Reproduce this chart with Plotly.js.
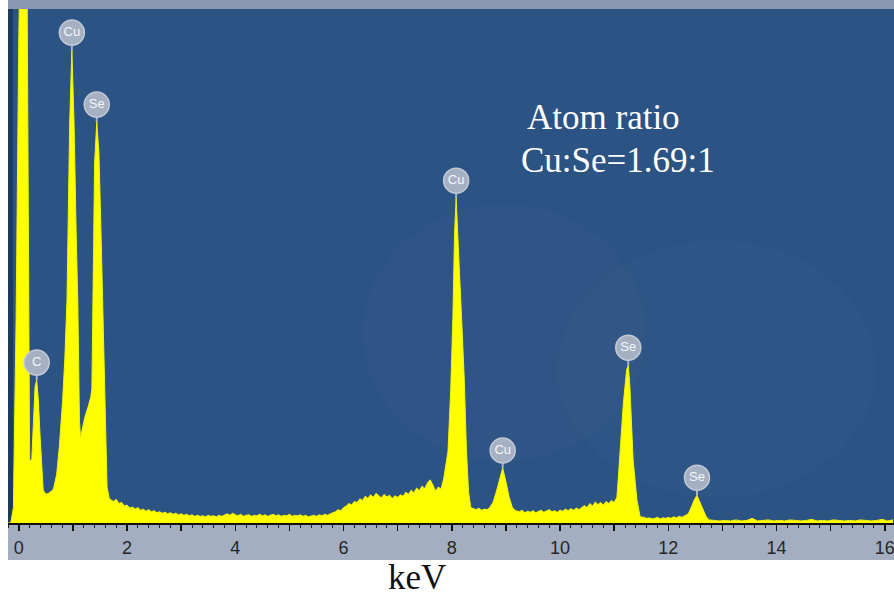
<!DOCTYPE html>
<html>
<head>
<meta charset="utf-8">
<script src="https://cdn.plot.ly/plotly-3.0.1.min.js"></script>
<style>html,body{margin:0;padding:0;background:#fff;}#chart{width:894px;height:596px;}</style>
</head>
<body>
<div id="chart"></div>
<script>
// EDS spectrum, energy in keV, counts in arbitrary units (1000 = top of frame)
const energy = [
 -0.20,-0.15,-0.10,-0.05,0.00,0.05,0.10,0.15,0.20,
 0.24,0.27,0.30,0.33,0.36,0.39,0.42,0.45,0.50,0.55,0.60,0.64,
 0.70,0.75,0.81,0.85,0.89,0.94,0.98,1.02,1.06,1.09,1.12,1.14,
 1.18,1.23,1.28,1.33,1.35,1.37,1.40,1.44,1.48,1.52,1.55,1.59,1.63,1.67,
 1.70,1.75,1.80,1.85,1.90,1.95,2.00,2.05,2.10,2.15,2.20,2.25,2.30,2.35,2.40,2.45,
 2.50,2.55,2.60,2.65,2.70,2.75,2.80,2.85,2.90,2.95,3.00,3.05,3.10,3.15,3.20,3.25,
 3.30,3.35,3.40,3.45,3.50,3.55,3.60,3.65,3.70,3.75,3.80,3.85,3.90,3.95,4.00,4.05,
 4.10,4.15,4.20,4.25,4.30,4.35,4.40,4.45,4.50,4.55,4.60,4.65,4.70,4.75,4.80,4.85,
 4.90,4.95,5.00,5.05,5.10,5.15,5.20,5.25,5.30,5.35,5.40,5.45,5.50,5.55,5.60,5.65,
 5.70,5.75,5.80,5.85,5.90,5.95,6.00,6.05,6.10,6.15,6.20,6.25,6.30,6.35,6.40,6.45,
 6.50,6.55,6.60,6.65,6.70,6.75,6.80,6.85,6.90,6.95,7.00,7.05,7.10,7.15,7.20,7.25,
 7.30,7.35,7.40,7.45,7.50,7.55,7.60,7.65,7.70,7.75,7.80,7.85,
 7.93,7.98,8.02,8.05,8.08,8.11,8.14,8.18,8.23,8.27,8.31,8.35,
 8.40,8.45,8.50,8.55,8.60,8.65,8.70,
 8.76,8.82,8.88,8.94,9.00,9.06,9.12,9.18,
 9.25,9.30,9.35,9.40,9.45,9.50,9.55,9.60,9.65,9.70,9.75,9.80,9.85,9.90,9.95,10.00,
 10.05,10.10,10.15,10.20,10.25,10.30,10.35,10.40,10.45,10.50,10.55,10.60,10.65,10.70,10.75,10.80,
 10.85,10.90,10.95,11.00,11.05,
 11.07,11.12,11.17,11.23,11.26,11.29,11.32,11.35,11.42,11.48,
 11.55,11.60,11.65,11.70,11.75,11.80,11.85,11.90,11.95,12.00,12.05,12.10,12.15,12.20,12.25,12.30,
 12.37,12.43,12.48,12.53,12.58,12.64,12.70,12.76,
 12.85,12.95,13.05,13.15,13.25,13.35,13.45,13.55,13.65,13.75,13.85,13.95,14.05,14.15,14.25,14.35,
 14.45,14.55,14.65,14.75,14.85,14.95,15.05,15.15,15.25,15.35,15.45,15.55,15.65,15.75,15.85,15.95,
 16.05,16.15
];
const counts = [
 0,0,30,400,950,1500,1600,1100,120,
 125,200,265,278,240,175,110,64,56,58,62,66,
 95,150,240,320,434,780,920,780,560,430,200,165,
 187,210,226,245,262,430,700,780,720,560,434,250,70,48,
 45,42,46,38,40,33,35,29,31,27,30,25,27,23,26,22,
 24,20,22,19,21,18,20,17,19,16,18,15,17,14,16,13,
 15,13,14,12,15,13,14,12,15,13,16,18,15,19,16,14,
 17,13,15,16,13,15,14,17,14,16,13,15,17,14,16,13,
 15,14,17,13,15,14,16,13,15,12,14,15,13,16,14,17,
 15,18,20,22,26,24,30,33,38,35,42,40,47,44,52,48,
 55,50,58,53,49,56,51,54,48,53,50,55,52,60,56,64,
 59,68,63,72,67,78,84,74,62,70,66,86,
 140,260,400,560,632,560,500,400,280,142,60,30,
 28,26,29,25,27,26,30,
 40,60,85,107,80,50,30,24,
 22,25,20,23,21,24,20,22,25,21,23,26,22,24,21,25,
 23,27,24,28,25,29,26,30,34,30,38,33,41,36,40,35,
 42,38,44,40,50,
 78,167,233,298,307,265,200,122,45,12,
 11,9,10,8,9,11,8,10,9,11,9,12,10,13,11,14,
 18,32,45,54,42,25,12,6,
 5,4,5,4,6,4,5,9,4,5,6,4,5,4,6,5,
 4,5,7,4,5,4,6,5,4,5,4,6,5,4,5,7,
 4,6
];
// x-axis ticks (keV)
const tickVals = [0,1,2,3,4,5,6,7,8,9,10,11,12,13,14,15,16];
const tickText = ['0','','2','','4','','6','','8','','10','','12','','14','','16'];
// peak labels
const peakNames  = ['C','Cu','Se','Cu','Cu','Se','Se'];
const peakEnergy = [0.33,0.98,1.44,8.08,8.94,11.26,12.53];

// ---- build ----
const plotH = 514;                 // plot height in px
const unitPerPx = 1000 / plotH;
const peakCounts = peakEnergy.map(e => {
  let best = 0;
  for (let i = 1; i < energy.length; i++) if (Math.abs(energy[i]-e) < Math.abs(energy[best]-e)) best = i;
  return counts[best];
});
const circleY = peakCounts.map(c => c + 17.5 * unitPerPx);
const stemX = [], stemY = [];
peakEnergy.forEach((e, i) => {
  stemX.push(e, e, null);
  stemY.push(peakCounts[i], circleY[i] - 10 * unitPerPx, null);
});

const traces = [
  {
    x: energy, y: counts, type: 'scatter', mode: 'lines',
    fill: 'tozeroy', fillcolor: '#ffff00',
    line: {color: '#f4f400', width: 1}, hoverinfo: 'skip', showlegend: false
  },
  {
    x: stemX, y: stemY, type: 'scatter', mode: 'lines',
    line: {color: '#a9b7cc', width: 2}, hoverinfo: 'skip', showlegend: false
  },
  {
    x: peakEnergy, y: circleY, type: 'scatter', mode: 'markers+text',
    text: peakNames, textposition: 'middle center',
    textfont: {family: 'Liberation Sans, Arial, sans-serif', size: 13, color: '#f4f6fa'},
    marker: {size: 25, color: '#a5b0c3', line: {color: '#c3cad6', width: 1.5}},
    hoverinfo: 'skip', showlegend: false, cliponaxis: false
  }
];

const layout = {
  width: 894, height: 596,
  margin: {l: 8, r: 0, t: 9, b: 73},
  paper_bgcolor: '#ffffff',
  plot_bgcolor: '#2b5384',
  showlegend: false,
  xaxis: {
    range: [-0.2, 16.17], showgrid: false, zeroline: false,
    showline: true, linecolor: '#111111', linewidth: 2,
    tickmode: 'array', tickvals: tickVals, ticktext: tickText,
    ticks: 'outside', ticklen: 6, tickwidth: 1.5, tickcolor: '#111111',
    minor: {dtick: 0.2, ticks: 'outside', ticklen: 3, tickwidth: 1, tickcolor: '#222222'},
    tickfont: {family: 'Liberation Sans, Arial, sans-serif', size: 18, color: '#262626'},
    ticklabelstandoff: 1,
    ticklabeloverflow: 'allow',
    fixedrange: true
  },
  yaxis: {
    range: [0, 1000], showgrid: false, zeroline: false, showline: false,
    showticklabels: false, ticks: '', fixedrange: true
  },
  shapes: [
    // grey band behind the tick labels
    {type: 'rect', xref: 'paper', yref: 'paper', x0: 0, x1: 1, y0: -37/514, y1: 0,
     fillcolor: '#a3aec1', line: {width: 0}, layer: 'below'},
    // thin band at the top
    {type: 'rect', xref: 'paper', yref: 'paper', x0: 0, x1: 1, y0: 1, y1: 1 + 9/514,
     fillcolor: '#8a97b0', line: {width: 0}, layer: 'below'},
    // dark strip at the left edge
    {type: 'rect', xref: 'paper', yref: 'paper', x0: 0, x1: 5/886, y0: 0, y1: 1,
     fillcolor: '#1d3a60', line: {width: 0}, layer: 'below'},
    // faint lighter blotches in the background
    {type: 'circle', xref: 'paper', yref: 'paper', x0: 0.40, x1: 0.72, y0: 0.12, y1: 0.62,
     fillcolor: 'rgba(255,255,255,0.015)', line: {width: 0}, layer: 'below'},
    {type: 'circle', xref: 'paper', yref: 'paper', x0: 0.62, x1: 0.98, y0: 0.05, y1: 0.55,
     fillcolor: 'rgba(255,255,255,0.012)', line: {width: 0}, layer: 'below'}
  ],
  annotations: [
    {text: 'Atom ratio', xref: 'paper', yref: 'paper', x: 517/886, y: (523-117)/514,
     xanchor: 'left', yanchor: 'middle', showarrow: false,
     font: {family: 'Liberation Serif, Times New Roman, serif', size: 35, color: '#ffffff'}},
    {text: 'Cu:Se=1.69:1', xref: 'paper', yref: 'paper', x: 511/886, y: (523-161)/514,
     xanchor: 'left', yanchor: 'middle', showarrow: false,
     font: {family: 'Liberation Serif, Times New Roman, serif', size: 35, color: '#ffffff'}},
    {text: 'keV', xref: 'paper', yref: 'paper', x: 409/886, y: (523-577)/514,
     xanchor: 'center', yanchor: 'middle', showarrow: false,
     font: {family: 'Liberation Serif, Times New Roman, serif', size: 35, color: '#111111'}}
  ]
};

Plotly.newPlot('chart', traces, layout, {displayModeBar: false, staticPlot: true});
</script>
</body>
</html>
